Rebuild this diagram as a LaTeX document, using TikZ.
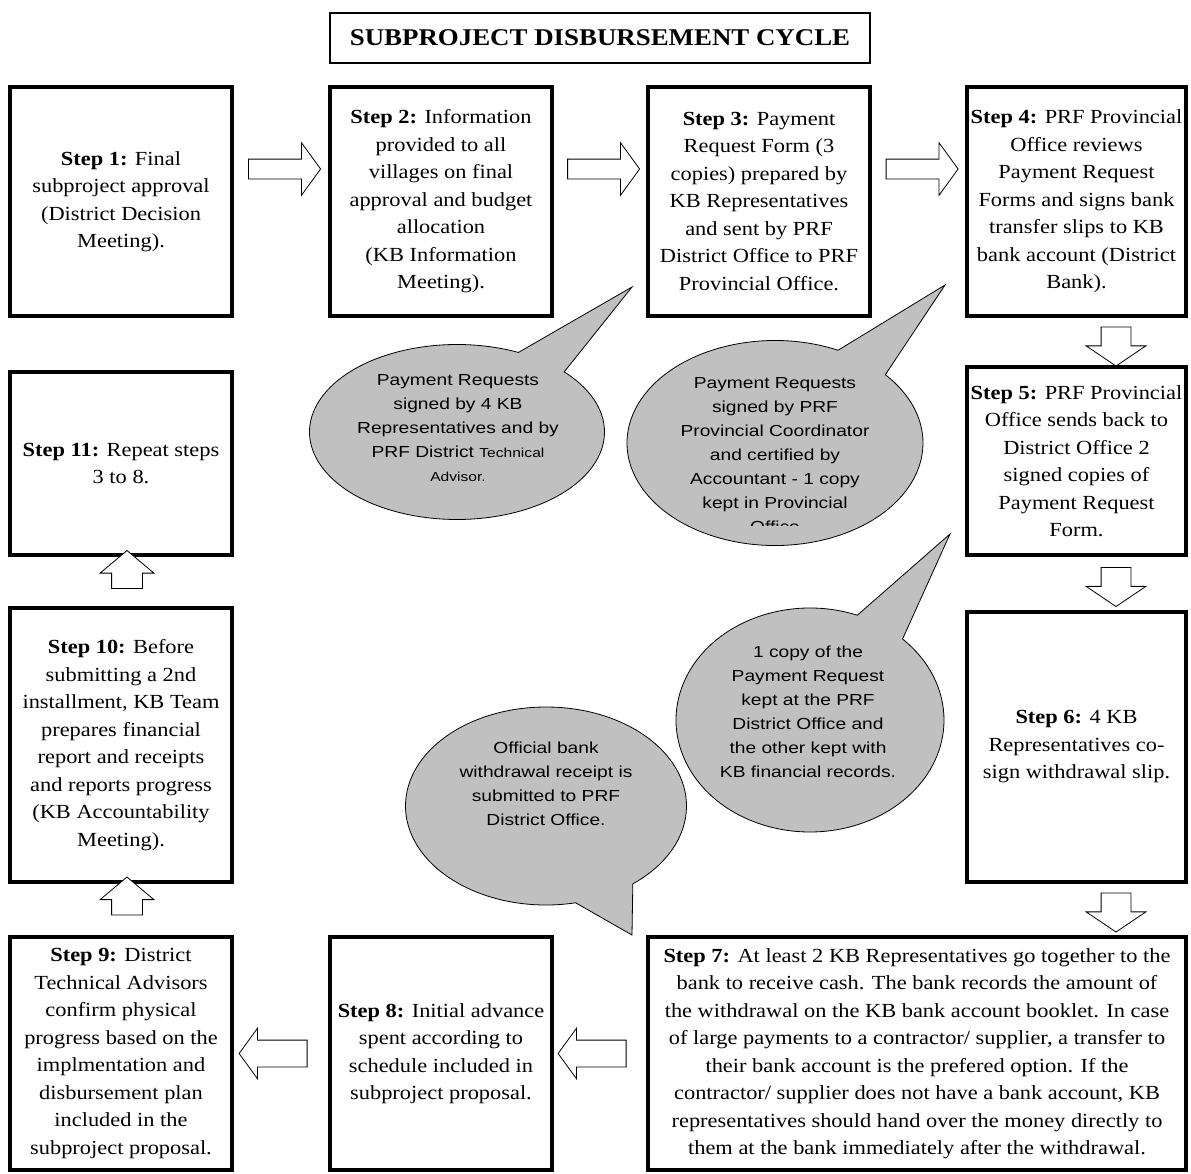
\documentclass[tikz,border=0pt]{standalone}
\usepackage{fontspec}
\usetikzlibrary{shapes.arrows,shapes.callouts,calc}
\newfontfamily\stepfont[FakeStretch=1.12]{Liberation Serif}
\newfontfamily\bubblefont[FakeStretch=1.2]{Liberation Sans}
\definecolor{bubblegray}{RGB}{192,192,192}

\begin{document}
\begin{tikzpicture}[x=1pt,y=-1pt,
  box node/.style={draw, line width=4pt, align=center, inner sep=0pt,
    font=\stepfont\fontsize{20}{27.5}\selectfont},
  bubble node/.style={ellipse callout, draw, fill=bubblegray, line width=0.8pt, inner sep=0pt},
  bubble text/.style={align=center, inner sep=0pt, font=\bubblefont\fontsize{16}{24}\selectfont},
  block arrow/.style={single arrow, draw, fill=white, line width=0.8pt, inner xsep=0pt},
  right arrow/.style={block arrow, inner ysep=9.5pt, minimum height=72, minimum width=52,
    single arrow head extend=16.5pt, single arrow tip angle=108},
  down arrow/.style={block arrow, rotate=-90, inner ysep=14.5pt, minimum height=39, minimum width=59,
    single arrow head extend=15pt, single arrow tip angle=112},
  up arrow/.style={block arrow, rotate=90, inner ysep=15pt, minimum height=38, minimum width=53,
    single arrow head extend=11.5pt, single arrow tip angle=100},
  left arrow/.style={block arrow, rotate=180, inner ysep=13pt, minimum height=68, minimum width=50,
    single arrow head extend=12pt, single arrow tip angle=108}]

  \useasboundingbox (0,0) rectangle (1191,1173);

  \node[draw, line width=2.5pt, minimum width=540, minimum height=50,
    font=\stepfont\bfseries\fontsize{24}{28}\selectfont] (title) at (600,38) {SUBPROJECT DISBURSEMENT CYCLE};

  \node[box node, minimum width=222, minimum height=229] (s1) at (121,201.5)
    {\textbf{Step 1:} Final\\subproject approval\\(District Decision\\Meeting).};
  \node[box node, minimum width=222, minimum height=229] (s2) at (441,201.5)
    {\textbf{Step 2:} Information\\provided to all\\villages on final\\approval and budget\\allocation\\(KB Information\\Meeting).};
  \node[box node, minimum width=222, minimum height=229] (s3) at (759,201.5)
    {\textbf{Step 3:} Payment\\Request Form (3\\copies) prepared by\\KB Representatives\\and sent by PRF\\District Office to PRF\\Provincial Office.};
  \node[box node, minimum width=219, minimum height=229] (s4) at (1076.5,201.5)
    {\textbf{Step 4:} PRF Provincial\\Office reviews\\Payment Request\\Forms and signs bank\\transfer slips to KB\\bank account (District\\Bank).};
  \node[box node, minimum width=219, minimum height=188] (s5) at (1076.5,461)
    {\textbf{Step 5:} PRF Provincial\\Office sends back to\\District Office 2\\signed copies of\\Payment Request\\Form.};
  \node[box node, minimum width=219, minimum height=270] (s6) at (1076.5,747)
    {\textbf{Step 6:} 4 KB\\Representatives co-\\sign withdrawal slip.};
  \node[box node, minimum width=538, minimum height=233] (s7) at (917,1053.5)
    {\textbf{Step 7:} At least 2 KB Representatives go together to the\\bank to receive cash. The bank records the amount of\\the withdrawal on the KB bank account booklet. In case\\of large payments to a contractor/ supplier, a transfer to\\their bank account is the prefered option. If the\\contractor/ supplier does not have a bank account, KB\\representatives should hand over the money directly to\\them at the bank immediately after the withdrawal.};
  \node[box node, minimum width=222, minimum height=233] (s8) at (441,1053.5)
    {\textbf{Step 8:} Initial advance\\spent according to\\schedule included in\\subproject proposal.};
  \node[box node, minimum width=222, minimum height=233] (s9) at (121,1053.5)
    {\textbf{Step 9:} District\\Technical Advisors\\confirm physical\\progress based on the\\implmentation and\\disbursement plan\\included in the\\subproject proposal.};
  \node[box node, minimum width=222, minimum height=274] (s10) at (121,745)
    {\textbf{Step 10:} Before\\submitting a 2nd\\installment, KB Team\\prepares financial\\report and receipts\\and reports progress\\(KB Accountability\\Meeting).};
  \node[box node, minimum width=222, minimum height=183] (s11) at (121,463.5)
    {\textbf{Step 11:} Repeat steps\\3 to 8.};

  \node[right arrow] (a12) at ($(s1.east)!0.5!(s2.west)+(0,-32.5)$) {};
  \node[right arrow] (a23) at ($(s2.east)!0.5!(s3.west)+(0,-32.5)$) {};
  \node[right arrow] (a34) at ($(s3.east)!0.5!(s4.west)+(0,-32.5)$) {};
  \node[down arrow] (a45) at ($(s4.south)!0.5!(s5.north)+(39.5,0)$) {};
  \node[down arrow] (a56) at ($(s5.south)!0.5!(s6.north)+(39.5,-1.5)$) {};
  \node[down arrow] (a67) at ($(s6.south)!0.5!(s7.north -| s6.south)+(39.5,-2)$) {};
  \node[left arrow] (a78) at ($(s8.east)!0.5!(s7.west)+(-3,0)$) {};
  \node[left arrow] (a89) at ($(s9.east)!0.5!(s8.west)+(-3,0)$) {};
  \node[up arrow] (a910) at ($(s10.south)!0.5!(s9.north)+(6,-7)$) {};
  \node[up arrow] (a1011) at ($(s11.south)!0.5!(s10.north)+(6,-5.5)$) {};

  \node[bubble node, minimum width=295, minimum height=175,
    callout absolute pointer={(632,287)}, callout pointer arc=22] (b1) at (457,432) {};
  \node[bubble text] (t1) at (458,428) {Payment Requests\\signed by 4 KB\\Representatives and by\\PRF District {\fontsize{13}{24}\selectfont Technical}\\{\fontsize{13}{24}\selectfont Advisor.}};

  \node[bubble node, minimum width=296, minimum height=205,
    callout absolute pointer={(945,285)}, callout pointer arc=23] (b2) at (775,443) {};
  \begin{scope}
    \clip (620,330) rectangle (940,525);
    \node[bubble text] (t2) at (775,455) {Payment Requests\\signed by PRF\\Provincial Coordinator\\and certified by\\Accountant - 1 copy\\kept in Provincial\\Office};
  \end{scope}

  \node[bubble node, minimum width=268, minimum height=224,
    callout absolute pointer={(950,534)}, callout pointer arc=23] (b3) at (810,720) {};
  \node[bubble text] (t3) at (808,712) {1 copy of the\\Payment Request\\kept at the PRF\\District Office and\\the other kept with\\KB financial records.};

  \node[bubble node, minimum width=281, minimum height=198,
    callout absolute pointer={(632,935)}, callout pointer arc=26] (b4) at (546,806) {};
  \node[bubble text] (t4) at (546,784) {Official bank\\withdrawal receipt is\\submitted to PRF\\District Office.};
\end{tikzpicture}
\end{document}
